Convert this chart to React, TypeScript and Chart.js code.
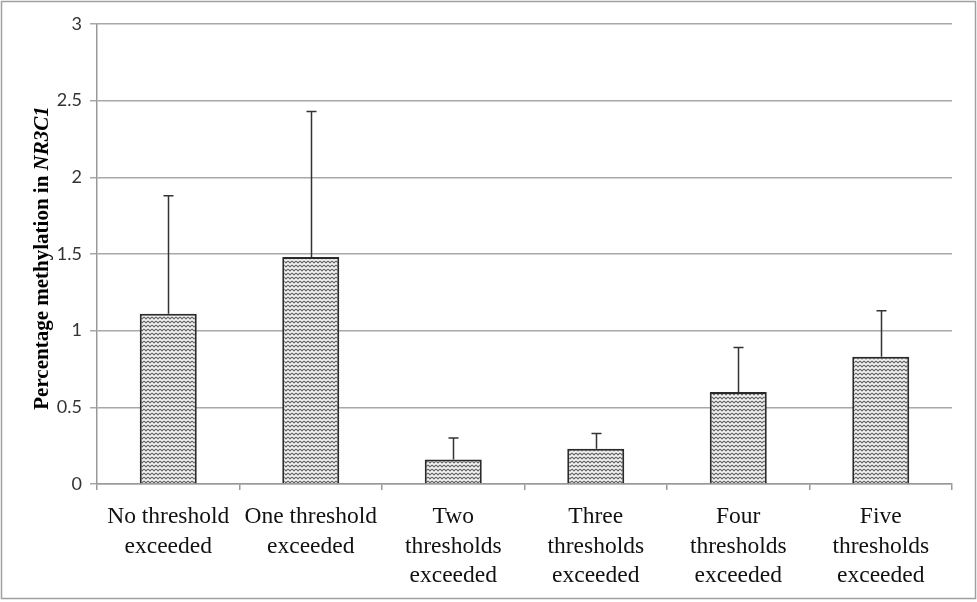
import { useEffect, useRef } from "react";
import { Chart, registerables } from "chart.js";

Chart.register(...registerables);

const categories = [
  ["No threshold", "exceeded"],
  ["One threshold", "exceeded"],
  ["Two", "thresholds", "exceeded"],
  ["Three", "thresholds", "exceeded"],
  ["Four", "thresholds", "exceeded"],
  ["Five", "thresholds", "exceeded"],
];
const means = [1.11, 1.48, 0.16, 0.23, 0.6, 0.83];
const errorTops = [1.88, 2.43, 0.3, 0.33, 0.89, 1.13];
const yTicks = [0, 0.5, 1, 1.5, 2, 2.5, 3];

function makeHatch(): CanvasPattern | string {
  const c = document.createElement("canvas");
  c.width = 4;
  c.height = 4;
  const g = c.getContext("2d");
  if (!g) return "#ccc";
  g.fillStyle = "#f4f4f4";
  g.fillRect(0, 0, 4, 4);
  g.strokeStyle = "#666";
  g.lineWidth = 1.1;
  g.beginPath();
  g.moveTo(0, 1);
  g.lineTo(2, 3);
  g.lineTo(4, 1);
  g.stroke();
  return g.createPattern(c, "repeat") ?? "#ccc";
}

// error bars (upper only) and the rotated y title with italic gene name
const extras = {
  id: "extras",
  afterDatasetsDraw(chart: any) {
    const { ctx, scales } = chart;
    const meta = chart.getDatasetMeta(0);
    ctx.save();
    ctx.strokeStyle = "#333";
    ctx.lineWidth = 1.5;
    meta.data.forEach((bar: any, i: number) => {
      const x = Math.round(bar.x) + 0.5;
      const yTop = scales.y.getPixelForValue(errorTops[i]);
      const yMean = scales.y.getPixelForValue(means[i]);
      ctx.beginPath();
      ctx.moveTo(x, yMean);
      ctx.lineTo(x, yTop);
      ctx.moveTo(x - 5, yTop);
      ctx.lineTo(x + 5, yTop);
      ctx.stroke();
    });
    ctx.restore();
  },
  afterDraw(chart: any) {
    const { ctx, chartArea } = chart;
    ctx.save();
    // outer frame
    ctx.strokeStyle = "#a0a0a0";
    ctx.lineWidth = 1.5;
    ctx.strokeRect(1.5, 1.5, 974, 597);
    // y title
    const part1 = "Percentage methylation in ";
    const part2 = "NR3C1";
    const f1 = "bold 21px 'Liberation Serif', 'Times New Roman', serif";
    const f2 = "italic bold 21px 'Liberation Serif', 'Times New Roman', serif";
    ctx.font = f1;
    const w1 = ctx.measureText(part1).width;
    ctx.font = f2;
    const w2 = ctx.measureText(part2).width;
    const cy = (chartArea.top + chartArea.bottom) / 2 + 4;
    ctx.translate(43, cy);
    ctx.rotate(-Math.PI / 2);
    ctx.fillStyle = "#000";
    ctx.textBaseline = "middle";
    ctx.textAlign = "left";
    const start = -(w1 + w2) / 2;
    ctx.font = f1;
    ctx.fillText(part1, start, 0);
    ctx.font = f2;
    ctx.fillText(part2, start + w1, 0);
    ctx.restore();
  },
};

export default function App() {
  const canvasRef = useRef<HTMLCanvasElement>(null);
  const chartRef = useRef<Chart | null>(null);

  useEffect(() => {
    if (!canvasRef.current) return;
    const ctx = canvasRef.current.getContext("2d");
    if (!ctx) return;
    if (chartRef.current) chartRef.current.destroy();

    chartRef.current = new Chart(ctx, {
      type: "bar",
      data: {
        labels: categories,
        datasets: [
          {
            data: means,
            backgroundColor: makeHatch() as any,
            borderColor: "#2a2a2a",
            borderWidth: 2,
            categoryPercentage: 1,
            barPercentage: 0.4,
          },
        ],
      },
      options: {
        responsive: false,
        animation: false,
        devicePixelRatio: 1,
        layout: { padding: { top: 24, right: 25, bottom: 0, left: 0 } },
        plugins: {
          legend: { display: false },
          tooltip: { enabled: false },
        },
        scales: {
          x: {
            grid: {
              offset: true,
              drawOnChartArea: false,
              drawTicks: true,
              tickLength: 6,
              color: "#999",
              lineWidth: 1.5,
            },
            border: { display: true, color: "#999", width: 1.5 },
            ticks: {
              color: "#111",
              padding: 12,
              maxRotation: 0,
              autoSkip: false,
              font: { family: "'Liberation Serif', 'Times New Roman', serif", size: 23.5, lineHeight: 1.26 },
            },
            afterFit(scale: any) {
              scale.height = 602 - 484;
            },
          },
          y: {
            min: 0,
            max: 3,
            afterBuildTicks(scale: any) {
              scale.ticks = yTicks.map((v) => ({ value: v }));
            },
            grid: {
              color: "#a8a8a8",
              lineWidth: 1.5,
              tickLength: 7,
            },
            border: { display: true, color: "#999", width: 1.5 },
            ticks: {
              color: "#333",
              padding: 8,
              font: { family: "Lato, 'Open Sans', sans-serif", size: 18 },
              callback: (v: any) => String(v),
            },
            afterFit(scale: any) {
              scale.width = 97;
            },
          },
        },
      },
      plugins: [extras],
    });

    return () => {
      if (chartRef.current) chartRef.current.destroy();
      chartRef.current = null;
    };
  }, []);

  return (
    <div style={{ position: "fixed", left: 0, top: 0, width: 977, height: 602, background: "#fff" }}>
      <canvas ref={canvasRef} width={977} height={602} style={{ display: "block" }}></canvas>
    </div>
  );
}
